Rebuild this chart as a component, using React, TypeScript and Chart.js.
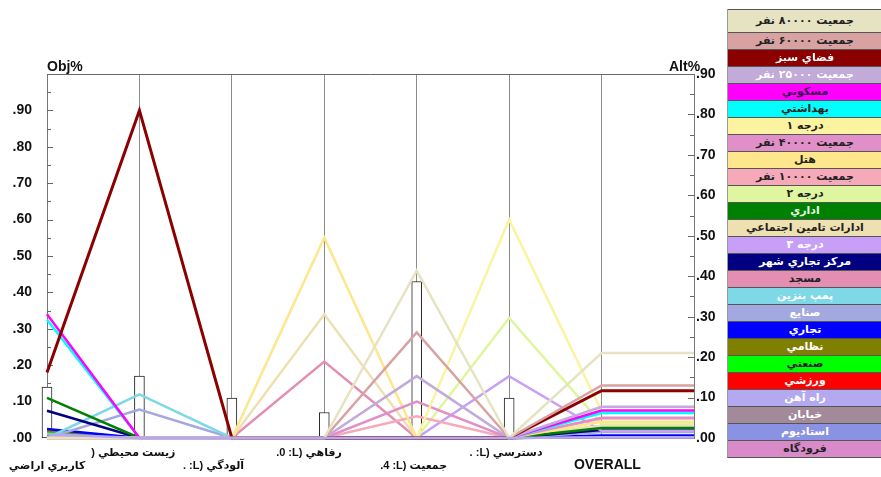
import React, { useEffect, useRef } from 'react';
import { Chart, registerables } from 'chart.js';

Chart.register(...registerables);

// Alternatives (legend order)
const alternatives = [
  'جمعيت ۸۰۰۰۰ نفر', 'جمعيت ۶۰۰۰۰ نفر', 'فضاي سبز', 'جمعيت ۲۵۰۰۰ نفر', 'مسكوني', 'بهداشتي',
  'درجه ۱', 'جمعيت ۴۰۰۰۰ نفر', 'هتل', 'جمعيت ۱۰۰۰۰ نفر', 'درجه ۲', 'اداري',
  'ادارات تامين اجتماعي', 'درجه ۳', 'مركز تجاري شهر', 'مسجد', 'پمپ بنزين', 'صنايع',
  'تجاري', 'نظامي', 'صنعتي', 'ورزشي', 'راه آهن', 'خيابان', 'استاديوم', 'فرودگاه',
];
const colors = [
  '#e6e3c3', '#d8a2a2', '#8b0000', '#c3abd9', '#ff00ff', '#00ffff',
  '#fbf39f', '#e08fc8', '#fde68c', '#f6a9b9', '#dff5a0', '#008000',
  '#eee0b0', '#c79ff7', '#000080', '#e38fb3', '#7fd8e6', '#a3a8e0',
  '#0000ff', '#808000', '#00ff00', '#ff0000', '#b2a9f0', '#a38a9b', '#8a92e3', '#d98ac9',
];
const legendTextColors = [
  '#222', '#222', '#fff', '#fff', '#3a0050', '#222',
  '#222', '#222', '#222', '#222', '#222', '#e8ffe8',
  '#222', '#fff', '#fff', '#222', '#fff', '#fff',
  '#fff', '#fff', '#222', '#fff', '#fff', '#fff', '#fff', '#222',
];

// Criteria (x-axis) labels, as they appear
const criteriaLabels = [
  'كاربري اراضي',
  ') زيست محيطي    ',
  '. :L) آلودگي            ',
  '.0 :L) رفاهي          ',
  '.4 :L) جمعيت  ',
  '. :L) دسترسي  ',
  '   OVERALL',
];
const labelRows = [2, 1, 2, 1, 2, 1, 2];

// Criterion weights (left scale)
const criteriaWeights = [0.14, 0.17, 0.11, 0.07, 0.43, 0.11];

// Alternative performance per criterion (left scale)
const landUse =     [0, 0, 0.18, 0, 0.34, 0.325, 0, 0, 0, 0, 0, 0.11, 0, 0, 0.075, 0, 0, 0, 0.025, 0.02, 0.015, 0.005, 0.01, 0.01, 0.015, 0.005];
const environment = [0, 0, 0.90, 0, 0, 0, 0, 0, 0, 0, 0, 0, 0, 0, 0, 0, 0.12, 0.078, 0, 0, 0, 0, 0, 0, 0, 0];
const pollution =   [0, 0, 0, 0, 0, 0, 0, 0, 0, 0, 0, 0, 0, 0, 0, 0, 0, 0, 0, 0, 0, 0, 0, 0, 0, 0];
const welfare =     [0, 0, 0, 0, 0, 0, 0, 0, 0.55, 0, 0, 0, 0.34, 0, 0, 0.21, 0, 0, 0, 0, 0, 0, 0, 0, 0, 0];
const population =  [0.46, 0.29, 0, 0.17, 0, 0, 0, 0.10, 0, 0.06, 0, 0, 0, 0, 0, 0, 0, 0, 0, 0, 0, 0, 0, 0, 0, 0];
const access =      [0, 0, 0, 0, 0, 0, 0.60, 0, 0, 0, 0.33, 0, 0, 0.17, 0, 0, 0, 0, 0, 0, 0, 0, 0, 0, 0, 0];
// Overall (right scale)
const overall =     [0.21, 0.13, 0.117, 0.077, 0.068, 0.062, 0.066, 0.05, 0.04, 0.048, 0.036, 0.025, 0.03, 0.018, 0.02, 0.022, 0.03, 0.015, 0.006, 0.004, 0.022, 0.003, 0.002, 0.002, 0.004, 0.002];

const LEFT_MAX = 1.0;
const RIGHT_MAX = 0.9;
const FONT = "'Liberation Sans', 'DejaVu Sans', Arial, sans-serif";

const fmt = (v: number) => '.' + String(Math.round(v * 100)).padStart(2, '0');

const decor = {
  id: 'decor',
  beforeDraw(chart: any) {
    chart.ctx.direction = 'ltr';
  },
  beforeDatasetsDraw(chart: any) {
    const { ctx, chartArea } = chart;
    const y = chart.scales.y;
    const y2 = chart.scales.y2;
    ctx.save();
    ctx.strokeStyle = '#666';
    ctx.lineWidth = 1;
    ctx.beginPath();
    ctx.moveTo(chartArea.left, Math.round(chartArea.top) + 0.5);
    ctx.lineTo(chartArea.right, Math.round(chartArea.top) + 0.5);
    for (let i = 0; i <= 20; i++) {
      const v = i * 0.05;
      const py = Math.round(y.getPixelForValue(v)) + 0.5;
      const len = i % 2 === 0 ? 6 : 4;
      ctx.moveTo(chartArea.left, py);
      ctx.lineTo(chartArea.left + len, py);
    }
    for (let i = 0; i <= 18; i++) {
      const v = i * 0.05;
      const py = Math.round(y2.getPixelForValue(v)) + 0.5;
      const len = i % 2 === 0 ? 6 : 4;
      ctx.moveTo(chartArea.right, py);
      ctx.lineTo(chartArea.right - len, py);
    }
    ctx.stroke();
    ctx.restore();
  },
};

export default function App() {
  const ref = useRef<HTMLCanvasElement>(null);

  useEffect(() => {
    const crit = [landUse, environment, pollution, welfare, population, access];
    const datasets: any[] = alternatives.map((name, i) => {
      const ov = (overall[i] * LEFT_MAX) / RIGHT_MAX;
      return {
        type: 'line',
        label: name,
        data: [...crit.map((arr, k) => ({ x: k, y: arr[i] })), { x: 6, y: ov }, { x: 7, y: ov }],
        borderColor: colors[i],
        borderWidth: i === 2 ? 3 : 2.5,
        pointRadius: 0,
        fill: false,
        tension: 0,
        clip: false,
        order: name === 'راه آهن' ? -1 : 0,
        yAxisID: 'y',
      };
    });
    datasets.push({
      type: 'bar',
      label: 'weights',
      data: criteriaWeights.map((w, k) => ({ x: k, y: w })),
      backgroundColor: '#ffffff',
      borderColor: '#222',
      borderWidth: 1,
      borderSkipped: false,
      barThickness: 10,
      clip: false,
      order: 10,
      yAxisID: 'y',
    });

    const chart = new Chart(ref.current!, {
      type: 'line',
      data: { datasets },
      plugins: [decor],
      options: {
        responsive: false,
        animation: false,
        layout: { padding: { top: 74, left: 0, right: 0, bottom: 0 } },
        plugins: { legend: { display: false }, tooltip: { enabled: false }, title: { display: false } },
        scales: {
          x: {
            type: 'linear',
            min: 0,
            max: 7,
            offset: false,
            afterFit: (s: any) => { s.height = 39; s.paddingLeft = 0; s.paddingRight = 0; },
            grid: { color: '#8c8c8c', lineWidth: 1, drawTicks: false, offset: false },
            border: { color: '#8c8c8c' },
            ticks: {
              stepSize: 1,
              autoSkip: false,
              maxRotation: 0,
              padding: 8,
              color: '#111',
              font: (c: any) => ({
                family: FONT,
                size: c.index === 6 ? 14 : 11,
                weight: 'bold',
                lineHeight: '13px',
              }),
              callback: (v: any) => {
                const k = Math.round(Number(v));
                if (k < 0 || k > 6) return '';
                return labelRows[k] === 1 ? [criteriaLabels[k], ''] : ['', criteriaLabels[k]];
              },
            },
          },
          y: {
            position: 'left',
            min: 0,
            max: LEFT_MAX,
            afterFit: (s: any) => { s.width = 47; },
            grid: { display: false, drawTicks: false },
            border: { color: '#777' },
            ticks: {
              stepSize: 0.1,
              padding: 15,
              color: '#111',
              font: { family: FONT, size: 14, weight: 'bold' },
              callback: (v: any) => (Number(v) > 0.95 ? '' : fmt(Number(v))),
            },
          },
          y2: {
            position: 'right',
            min: 0,
            max: RIGHT_MAX,
            afterFit: (s: any) => { s.width = 26; },
            grid: { display: false, drawTicks: false },
            border: { color: '#777' },
            ticks: {
              stepSize: 0.1,
              padding: 2,
              color: '#111',
              font: { family: FONT, size: 14, weight: 'bold' },
              callback: (v: any) => fmt(Number(v)),
            },
          },
        },
      } as any,
    });
    return () => chart.destroy();
  }, []);

  return (
    <div dir="ltr" style={{ position: 'absolute', left: 0, top: 0, width: 881, height: 477, background: '#fff', overflow: 'hidden', direction: 'ltr' }}>
      <canvas ref={ref} dir="ltr" width={720} height={477} style={{ position: 'absolute', left: 0, top: 0, width: 720, height: 477, direction: 'ltr' }} />
      <div style={{ position: 'absolute', left: 47, top: 58, font: `bold 14px ${FONT}`, color: '#111' }}>Obj%</div>
      <div style={{ position: 'absolute', left: 669, top: 58, font: `bold 14px ${FONT}`, color: '#111' }}>Alt%</div>
      <div style={{ position: 'absolute', left: 727, top: 9, width: 154, borderLeft: '1px solid #999', borderBottom: '1px solid #555' }}>
        {alternatives.map((name, i) => (
          <div
            key={i}
            dir="rtl"
            style={{
              height: i === 0 ? 23 : 17,
              boxSizing: 'border-box',
              borderTop: '1px solid #555',
              background: colors[i],
              color: legendTextColors[i],
              font: "bold 11px 'DejaVu Sans', sans-serif",
              textAlign: 'center',
              lineHeight: i === 0 ? '21px' : '15px',
              whiteSpace: 'nowrap',
              overflow: 'hidden',
            }}
          >
            {name}
          </div>
        ))}
      </div>
    </div>
  );
}
